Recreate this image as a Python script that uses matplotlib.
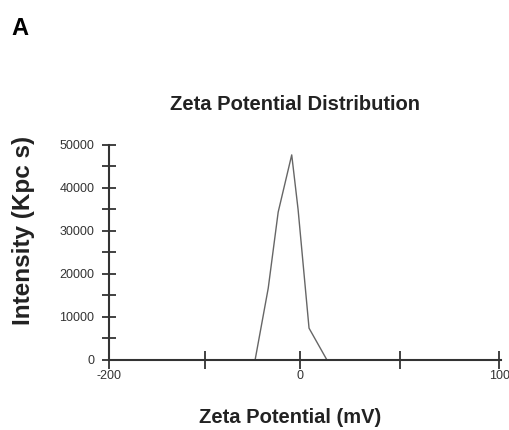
import numpy as np
import matplotlib
matplotlib.use("Agg")
import matplotlib.pyplot as plt
from matplotlib.ticker import MultipleLocator

plt.rcParams['font.family'] = ['Liberation Sans', 'DejaVu Sans']

# zeta potential distribution
zeta_mv = [-22.6, -16.0, -11.0, -4.2, -1.0, 4.5, 13.5]
intensity = [0, 16700, 34400, 47700, 35000, 7400, 0]

# x axis as drawn in the figure (left end is labelled -200)
x_ticks = [-96, -48, 0, 50, 100]
x_labels = ['-200', '', '0', '', '100']
y_ticks = [0, 10000, 20000, 30000, 40000, 50000]

fig = plt.figure(figsize=(5.1, 4.3), dpi=100)
ax = fig.add_axes([0.2137, 0.1628, 0.765, 0.5])

ax.plot(zeta_mv, intensity, color='#666666', lw=1.0)

ax.set_xlim(-96, 100)
ax.set_ylim(0, 50000)
for s in ['top', 'right']:
    ax.spines[s].set_visible(False)
for s in ['left', 'bottom']:
    ax.spines[s].set_linewidth(1.5)
    ax.spines[s].set_color('#333333')
ax.spines['bottom'].set_bounds(-96, 101)

ax.set_xticks(x_ticks)
ax.set_xticklabels(x_labels)
ax.set_yticks(y_ticks)
ax.yaxis.set_minor_locator(MultipleLocator(5000))
ax.tick_params(axis='both', which='both', direction='inout', color='#333333',
               width=1.3, labelsize=9, labelcolor='#333333')
ax.tick_params(axis='y', which='both', length=10, pad=5.5)
ax.tick_params(axis='x', which='major', length=13, pad=0.5)
ax.set_clip_on(False)

fig.text(0.04, 0.933, 'A', fontsize=17, fontweight='bold', ha='center', va='center')
fig.text(0.578, 0.757, 'Zeta Potential Distribution', fontsize=14.5,
         fontweight='bold', ha='center', va='center', color='#222222')
fig.text(0.047, 0.463, 'Intensity (Kpc s)', fontsize=17.5, fontweight='bold',
         rotation=90, ha='center', va='center', color='#222222')
fig.text(0.569, 0.030, 'Zeta Potential (mV)', fontsize=14.5, fontweight='bold',
         ha='center', va='center', color='#222222')

fig.savefig('out.png', dpi=100)
